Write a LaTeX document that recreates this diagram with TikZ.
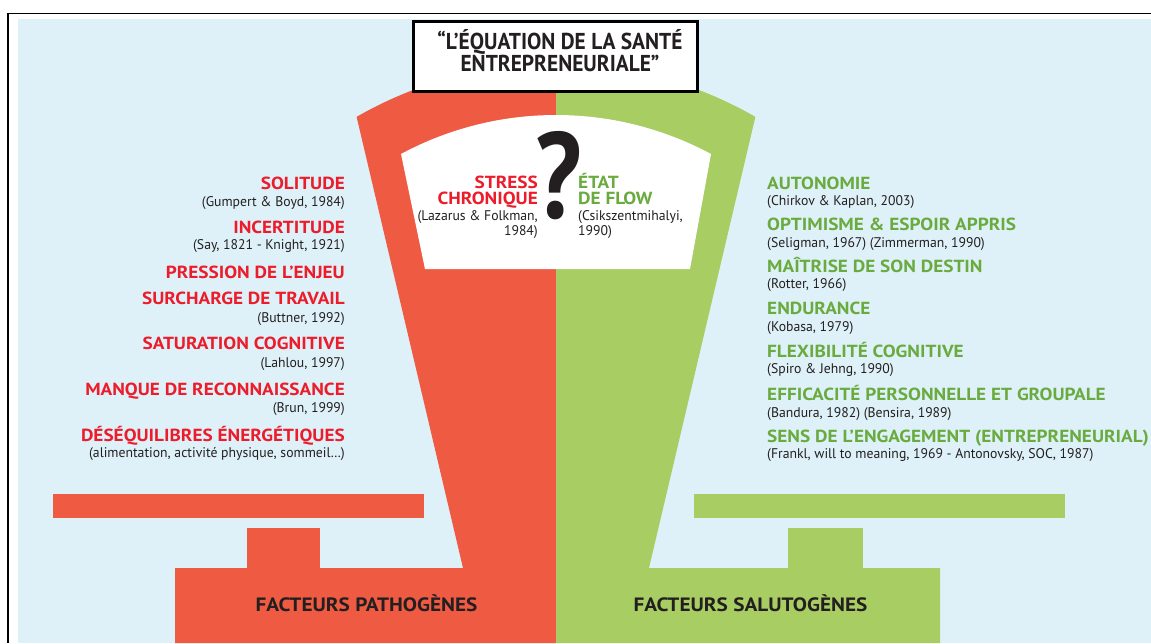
\documentclass[tikz,border=0pt]{standalone}
\usepackage{fontspec}
\setmainfont{PT Sans}
\newfontfamily\hdfont{PT Sans}[FakeStretch=1.1]
\newfontfamily\ttlfont{PT Sans}[FakeStretch=0.93]
\newfontfamily\qmfont{PT Sans}[FakeStretch=0.84]
\newfontfamily\ctfont{PT Sans}[FakeStretch=0.98]
\definecolor{bgblue}{HTML}{DFF1F8}
\definecolor{redfill}{HTML}{EE5A42}
\definecolor{greenfill}{HTML}{A8CD62}
\definecolor{redtxt}{HTML}{EC1C2B}
\definecolor{greentxt}{HTML}{6AAB3F}
\definecolor{darktxt}{HTML}{231F20}
\tikzset{
  lhead/.style={anchor=base east, inner sep=0, text=redtxt, font=\hdfont\bfseries\fontsize{17.5}{17.5}\selectfont},
  rhead/.style={anchor=base west, inner sep=0, text=greentxt, font=\hdfont\bfseries\fontsize{17.5}{17.5}\selectfont},
  lcite/.style={anchor=base east, inner sep=0, text=darktxt, font=\ctfont\fontsize{14}{14}\selectfont},
  rcite/.style={anchor=base west, inner sep=0, text=darktxt, font=\ctfont\fontsize{14}{14}\selectfont},
  titletxt/.style={anchor=base, inner sep=0, text=darktxt, font=\ttlfont\bfseries\fontsize{23}{23}\selectfont},
  baselabel/.style={anchor=base, inner sep=0, text=darktxt, font=\hdfont\bfseries\fontsize{19.3}{19.3}\selectfont},
}
\begin{document}
\begin{tikzpicture}[x=1pt,y=-1pt]
\useasboundingbox (0,0) rectangle (1151,643);
\fill[white] (0,0) rectangle (1151,643);
\fill[bgblue] (18,19) rectangle (1151,643);
\draw[line width=1.8pt] (8.3,643) -- (8.3,13.5) -- (1151,13.5);

% red side of the scale
\fill[redfill] (556,643) -- (556,63.6) arc[start angle=-90, end angle=-119.9, radius=400]
   -- (463,568) -- (175,568) -- (175,643) -- cycle;
\fill[redfill] (247,528) rectangle (320,569);
\fill[redfill] (53,494) rectangle (424,518);

% green side of the scale
\fill[greenfill] (556,643) -- (556,63.6) arc[start angle=-90, end angle=-60.1, radius=400]
   -- (649,568) -- (940,568) -- (940,643) -- cycle;
\fill[greenfill] (788,528) rectangle (863,569);
\fill[greenfill] (694,494) rectangle (1065,518);

% dial window
\fill[white] (401,154) arc[start angle=-118.25, end angle=-61.75, radius=327.5]
   -- (690,269) -- (425,269) -- cycle;

% title box
\draw[line width=2.7pt, fill=white] (413.7,21.3) rectangle (697.3,91.3);
\node[titletxt] (t1) at (560,49) {“L’ÉQUATION DE LA SANTÉ};
\node[titletxt] (t2) at (560,71.5) {ENTREPRENEURIALE”};

% question mark
\node[anchor=base, inner sep=0, text=darktxt, font=\qmfont\bfseries\fontsize{122}{122}\selectfont] (q) at (559,218) {?};

% centre texts
\node[lhead] (stress) at (538,188) {STRESS};
\node[lhead] (chron) at (538,204) {CHRONIQUE};
\node[lcite] (laz) at (538,220.5) {(Lazarus \& Folkman,};
\node[lcite] (laz2) at (538,235) {1984)};
\node[rhead] (etat) at (578,188) {ÉTAT};
\node[rhead] (flow) at (578,204) {DE FLOW};
\node[rcite] (csik) at (578,220.5) {(Csikszentmihalyi,};
\node[rcite] (csik2) at (578,235) {1990)};

% left list
\node[lhead] (l1) at (345,189) {SOLITUDE};
\node[lcite] (l1c) at (345,206) {(Gumpert \& Boyd, 1984)};
\node[lhead] (l2) at (345,233) {INCERTITUDE};
\node[lcite] (l2c) at (345,249.5) {(Say, 1821 - Knight, 1921)};
\node[lhead] (l3) at (345,278) {PRESSION DE L’ENJEU};
\node[lhead] (l4) at (345,304) {SURCHARGE DE TRAVAIL};
\node[lcite] (l4c) at (345,322.5) {(Buttner, 1992)};
\node[lhead] (l5) at (345,349) {SATURATION COGNITIVE};
\node[lcite] (l5c) at (345,367.5) {(Lahlou, 1997)};
\node[lhead] (l6) at (345,395) {MANQUE DE RECONNAISSANCE};
\node[lcite] (l6c) at (345,412.5) {(Brun, 1999)};
\node[lhead] (l7) at (345,441) {DÉSÉQUILIBRES ÉNERGÉTIQUES};
\node[lcite] (l7c) at (345,457.5) {(alimentation, activité physique, sommeil…)};

% right list
\node[rhead] (r1) at (767,189) {AUTONOMIE};
\node[rcite] (r1c) at (767,205.5) {(Chirkov \& Kaplan, 2003)};
\node[rhead] (r2) at (767,230) {OPTIMISME \& ESPOIR APPRIS};
\node[rcite] (r2c) at (767,247.5) {(Seligman, 1967) (Zimmerman, 1990)};
\node[rhead] (r3) at (767,272) {MAÎTRISE DE SON DESTIN};
\node[rcite] (r3c) at (767,288.5) {(Rotter, 1966)};
\node[rhead] (r4) at (767,314) {ENDURANCE};
\node[rcite] (r4c) at (767,331.5) {(Kobasa, 1979)};
\node[rhead] (r5) at (767,357) {FLEXIBILITÉ COGNITIVE};
\node[rcite] (r5c) at (767,373.5) {(Spiro \& Jehng, 1990)};
\node[rhead] (r6) at (767,400) {EFFICACITÉ PERSONNELLE ET GROUPALE};
\node[rcite] (r6c) at (767,417.5) {(Bandura, 1982) (Bensira, 1989)};
\node[rhead] (r7) at (767,442) {SENS DE L’ENGAGEMENT (ENTREPRENEURIAL)};
\node[rcite] (r7c) at (767,458.5) {(Frankl, will to meaning, 1969 - Antonovsky, SOC, 1987)};

% base labels
\node[baselabel] (pat) at (366.5,611.5) {FACTEURS PATHOGÈNES};
\node[baselabel] (sal) at (750.5,611.5) {FACTEURS SALUTOGÈNES};
\end{tikzpicture}
\end{document}
